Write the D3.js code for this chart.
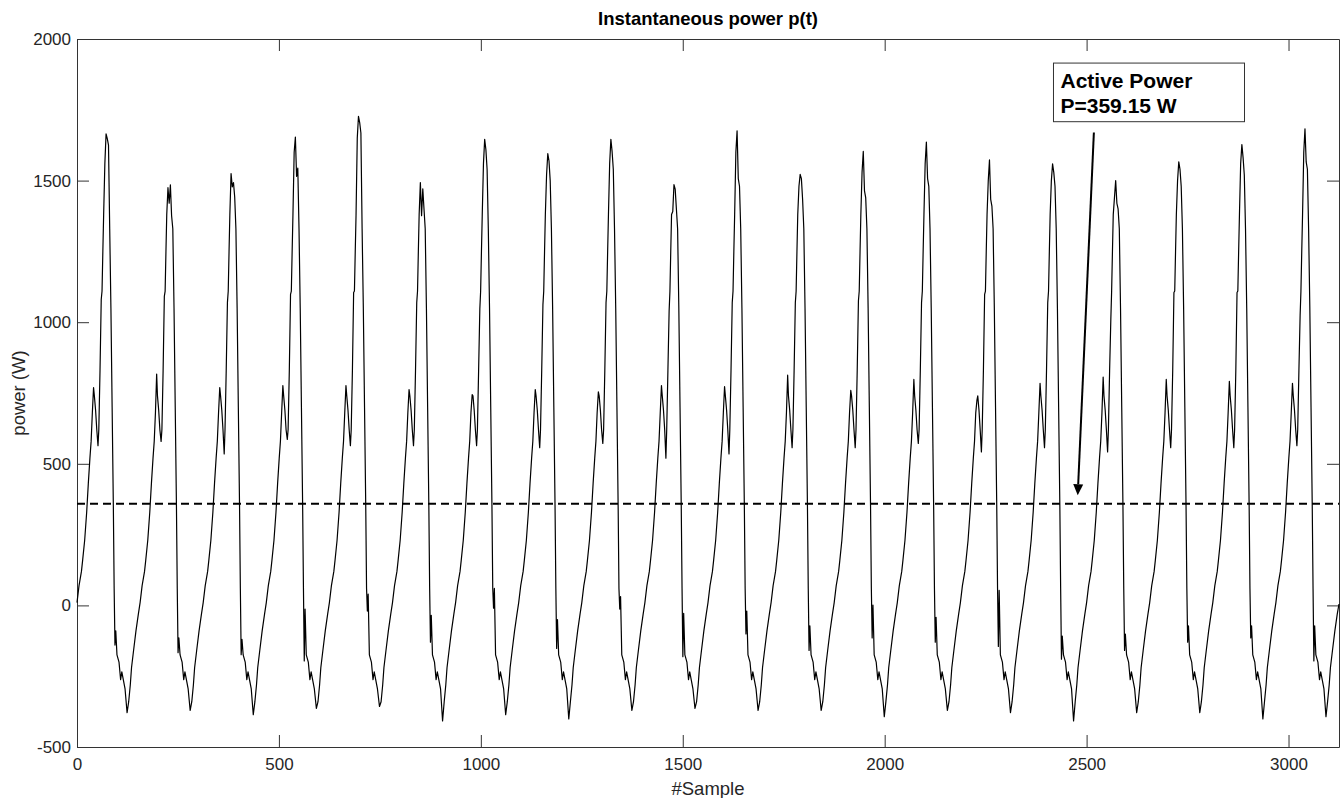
<!DOCTYPE html>
<html>
<head>
<meta charset="utf-8">
<script src="https://cdn.jsdelivr.net/npm/d3@7"></script>
<style>
  body { margin: 0; background: #fff; }
  svg  { display: block; font-family: "Liberation Sans", Arial, Helvetica, sans-serif; }
</style>
</head>
<body>
<div id="graph_container"></div>
<script>
var width       = 1341;
var height      = 798;
var margin      = { top: 39, right: 2, bottom: 51, left: 77 };

// samples per mains cycle and record length
var period      = 156.25;
var nSamples    = 3125;
var activePower = 359.15;

var xTicks = [0, 500, 1000, 1500, 2000, 2500, 3000];
var yTicks = [-500, 0, 500, 1000, 1500, 2000];

// values read per cycle (20 cycles) at the characteristic points of the waveform
var cycleBump   = [769, 817, 769, 776, 776, 762, 744, 762, 754, 776, 773, 813, 759, 798, 725, 784, 806, 798, 791, 784];
var cycleDip    = [564, 579, 535, 586, 564, 564, 564, 557, 572, 520, 535, 557, 557, 572, 542, 557, 542, 557, 557, 564];
var cycleKink   = [1080, 1091, 1070, 1098, 1105, 1069, 1047, 1062, 1069, 1040, 1069, 1069, 1076, 1069, 1098, 1069, 1010, 1105, 1105, 1025];
var cyclePeakA  = [1560, 1475, 1525, 1600, 1650, 1493, 1560, 1520, 1560, 1391, 1600, 1480, 1530, 1560, 1500, 1500, 1440, 1500, 1560, 1600];
var cyclePeakB  = [1665, 1420, 1478, 1654, 1727, 1376, 1646, 1595, 1646, 1486, 1676, 1522, 1603, 1636, 1573, 1559, 1500, 1566, 1627, 1683];
var cyclePeakC  = [1648, 1485, 1493, 1515, 1705, 1471, 1610, 1570, 1603, 1470, 1507, 1507, 1464, 1507, 1434, 1529, 1420, 1540, 1581, 1566];
var cyclePeakD  = [1625, 1376, 1442, 1544, 1668, 1400, 1540, 1500, 1540, 1400, 1480, 1434, 1440, 1480, 1410, 1480, 1400, 1480, 1520, 1540];
var cycleNotchA = [-140, -167, -174, -196, -20, -130, -10, -152, -13, -181, -101, -159, -115, -130, -145, -190, -159, -130, -115, -196];
var cycleNotchB = [-90, -115, -120, -13, 40, -35, 60, -50, 31, -28, -20, -72, 1, -42, 53, -108, -101, -72, -72, -72];
var cycleMin    = [-379, -371, -386, -364, -357, -408, -386, -401, -371, -364, -371, -371, -393, -371, -379, -408, -379, -379, -401, -393];

// [sample offset inside the cycle, power] ; names point to the per cycle arrays above
var cycleShape = [
    [0, 10], [5, 70], [11, 120], [14, 160], [19, 230], [24, 330], [28, 430], [32, 520], [35, 580], [38, 680],
    [41, "bump"], [43, 740], [46, 690], [49, 620], [52, "dip"], [54, 620], [57, 830], [60, "kink"], [62, 1110],
    [64, 1250], [66, 1380], [69, "peakA"], [72, "peakB"], [75, "peakC"], [78, "peakD"], [81, 1330], [84, 1050],
    [87, 700], [90, 350], [92, 60], [94, "notchA"], [96, "notchB"], [99, -175], [104, -200], [108, -262],
    [111, -235], [115, -265], [119, -295], [124, "min"], [128, -340], [132, -280], [135, -220], [140, -160],
    [146, -90], [152, -30]
];
var lastPoint = [3125, 5];

var features = {
    bump: cycleBump, dip: cycleDip, kink: cycleKink,
    peakA: cyclePeakA, peakB: cyclePeakB, peakC: cyclePeakC, peakD: cyclePeakD,
    notchA: cycleNotchA, notchB: cycleNotchB, min: cycleMin
};

// annotation (data coordinates)
var boxCorner  = [2418, 1915];
var boxEnd     = [2891, 1708];
var arrowFrom  = [2518, 1670];
var arrowTo    = [2478, 389];

var series = [];
for (var c = 0; c < cycleBump.length; c++) {
    cycleShape.forEach(function(p) {
        var v = (typeof p[1] === "string") ? features[p[1]][c] : p[1];
        series.push([c * period + p[0], v]);
    });
}
series.push(lastPoint);

var chartDiv = document.getElementById("graph_container");
var svg = d3.select(chartDiv).append("svg").attr("width", width).attr("height", height);

var x = d3.scaleLinear().domain([0, nSamples]).range([margin.left, width - margin.right]);
var y = d3.scaleLinear().domain([-500, 2000]).range([height - margin.bottom, margin.top]);

var axisColor = "#333333";
var tickLen   = 12;
var plain     = function(d) { return String(d); };

function styleAxis(g) {
    g.selectAll("path").attr("stroke", axisColor).attr("stroke-width", 1);
    g.selectAll("line").attr("stroke", axisColor).attr("stroke-width", 1);
    g.selectAll("text").attr("fill", "#262626").style("font-size", "17px");
}

svg.append("g")
    .attr("transform", "translate(0," + y(-500) + ")")
    .call(d3.axisBottom(x).tickValues(xTicks).tickFormat(plain).tickSizeInner(-tickLen).tickSizeOuter(0).tickPadding(11))
    .call(styleAxis);

svg.append("g")
    .attr("transform", "translate(0," + y(2000) + ")")
    .call(d3.axisTop(x).tickValues(xTicks).tickSizeInner(-tickLen).tickSizeOuter(0).tickFormat(""))
    .call(styleAxis);

svg.append("g")
    .attr("transform", "translate(" + x(0) + ",0)")
    .call(d3.axisLeft(y).tickValues(yTicks).tickFormat(plain).tickSizeInner(-tickLen).tickSizeOuter(0).tickPadding(6))
    .call(styleAxis);

svg.append("g")
    .attr("transform", "translate(" + x(nSamples) + ",0)")
    .call(d3.axisRight(y).tickValues(yTicks).tickSizeInner(-tickLen).tickSizeOuter(0).tickFormat(""))
    .call(styleAxis);

// active power (mean) line
svg.append("line")
    .attr("x1", x(0)).attr("x2", x(nSamples))
    .attr("y1", y(activePower)).attr("y2", y(activePower))
    .attr("stroke", "#000").attr("stroke-width", 2)
    .attr("stroke-dasharray", "8,5");

// instantaneous power
var line = d3.line().x(function(d) { return x(d[0]); }).y(function(d) { return y(d[1]); });
svg.append("path")
    .datum(series)
    .attr("d", line)
    .attr("fill", "none")
    .attr("stroke", "#000")
    .attr("stroke-width", 1.2)
    .attr("stroke-linejoin", "round");

// titles
svg.append("text")
    .attr("x", (x(0) + x(nSamples)) / 2).attr("y", 25)
    .attr("text-anchor", "middle")
    .style("font-size", "18.5px").style("font-weight", "bold")
    .attr("fill", "#000")
    .text("Instantaneous power p(t)");

svg.append("text")
    .attr("x", (x(0) + x(nSamples)) / 2).attr("y", 795)
    .attr("text-anchor", "middle")
    .style("font-size", "18.5px")
    .attr("fill", "#262626")
    .text("#Sample");

svg.append("text")
    .attr("transform", "translate(25," + ((y(-500) + y(2000)) / 2) + ") rotate(-90)")
    .attr("text-anchor", "middle")
    .style("font-size", "18.5px")
    .attr("fill", "#262626")
    .text("power (W)");

// arrow
var ax0 = x(arrowFrom[0]), ay0 = y(arrowFrom[1]);
var ax1 = x(arrowTo[0]),   ay1 = y(arrowTo[1]);
var ang = Math.atan2(ay1 - ay0, ax1 - ax0);
var headLen = 11, headHalf = 5;
var bx = ax1 - headLen * Math.cos(ang), by = ay1 - headLen * Math.sin(ang);

svg.append("line")
    .attr("x1", ax0).attr("y1", ay0).attr("x2", bx).attr("y2", by)
    .attr("stroke", "#000").attr("stroke-width", 2);

svg.append("path")
    .attr("d", "M" + ax1 + "," + ay1 +
               "L" + (bx + headHalf * Math.sin(ang)) + "," + (by - headHalf * Math.cos(ang)) +
               "L" + (bx - headHalf * Math.sin(ang)) + "," + (by + headHalf * Math.cos(ang)) + "Z")
    .attr("fill", "#000");

// text box
var bx0 = x(boxCorner[0]), by0 = y(boxCorner[1]);
var bx1 = x(boxEnd[0]),    by1 = y(boxEnd[1]);
svg.append("rect")
    .attr("x", bx0).attr("y", by0)
    .attr("width", bx1 - bx0).attr("height", by1 - by0)
    .attr("fill", "#fff").attr("stroke", "#333").attr("stroke-width", 1);

var label = svg.append("text")
    .attr("x", bx0 + 7).attr("y", by0 + 24.5)
    .style("font-size", "21px").style("font-weight", "bold")
    .attr("fill", "#000");
label.append("tspan").attr("x", bx0 + 7).text("Active Power");
label.append("tspan").attr("x", bx0 + 7).attr("dy", 25.5).text("P=" + activePower + " W");
</script>
</body>
</html>
